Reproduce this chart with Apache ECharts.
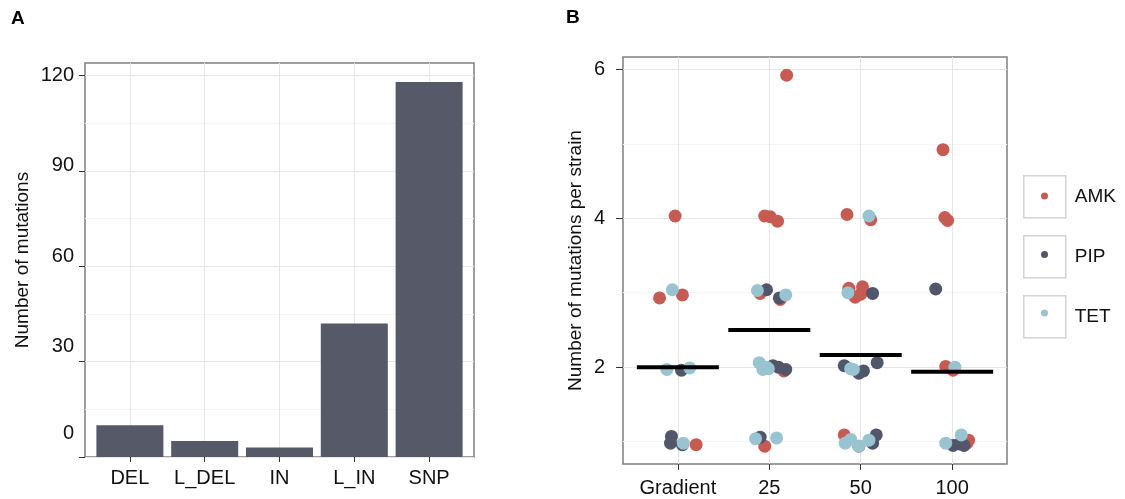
<!DOCTYPE html>
<html>
<head>
<meta charset="utf-8">
<title>mutations</title>
<script src="https://cdn.jsdelivr.net/npm/echarts@6/dist/echarts.min.js"></script>
<style>
  html, body { margin: 0; padding: 0; background: #fff; }
  #main { width: 1125px; height: 499px; }
</style>
</head>
<body>
<div id="main"></div>
<script>
// panel A: number of mutations per type
var mutTypes = ['DEL', 'L_DEL', 'IN', 'L_IN', 'SNP']
var mutCounts = [10, 5, 3, 42, 118]
var countTicks = [0, 30, 60, 90, 120]
var countMinor = [15, 45, 75, 105]

// panel B: mutations per strain, jittered points as [x, y]
var conditions = ['Gradient', '25', '50', '100']
var amkPoints = [
  [0.97, 4.03], [0.80, 2.93], [1.05, 2.97], [1.20, 0.96],
  [2.19, 5.92], [1.95, 4.03], [2.01, 4.02], [2.09, 3.96], [1.90, 2.99], [2.12, 2.91], [2.16, 1.95], [1.95, 0.94],
  [2.85, 4.05], [3.11, 3.98], [2.87, 3.06], [3.02, 3.08], [2.94, 2.94], [3.00, 2.98], [2.82, 1.09], [2.98, 0.94],
  [3.90, 4.92], [3.92, 4.01], [3.95, 3.97], [3.93, 2.01], [4.01, 1.96], [4.18, 1.02], [4.16, 0.98]
]
var pipPoints = [
  [1.04, 1.96], [0.93, 1.07], [0.92, 0.98], [1.05, 0.96],
  [1.97, 3.04], [2.11, 2.93], [2.04, 2.02], [2.10, 2.00], [2.18, 1.97], [1.90, 1.06],
  [3.13, 2.99], [2.82, 2.02], [2.98, 1.92], [3.03, 1.95], [3.18, 2.06], [3.17, 1.09], [3.13, 0.98],
  [3.82, 3.05], [4.01, 0.95], [4.13, 0.95], [4.08, 0.97]
]
var tetPoints = [
  [0.94, 3.04], [0.88, 1.97], [1.13, 1.99], [1.06, 0.98],
  [1.87, 3.03], [2.18, 2.97], [1.89, 2.06], [1.93, 1.97], [1.97, 2.00], [1.99, 1.98], [1.85, 1.04], [2.08, 1.05],
  [3.09, 4.03], [2.86, 3.00], [2.89, 1.98], [2.92, 1.97], [2.89, 1.03], [2.83, 0.98], [2.98, 0.94], [3.09, 1.02],
  [4.03, 2.00], [3.93, 0.98], [4.10, 1.09]
]
var strainMeans = [2.0, 2.5, 2.165, 1.94]
var strainTicks = [2, 4, 6]
var strainMinor = [1, 3, 5]

var font = 'Liberation Sans, Arial, sans-serif'
var ink = '#111'
var gridLine = '#e6e6e6'
var gridMinor = '#f4f4f4'
// the original figure has the left tick labels drifting upward, lift per label (px)
var labelLift = [24, 15, 10, 6, 0]

var liftRich = {}
labelLift.forEach(function (s, i) {
  liftRich['l' + i] = { fontSize: 20, color: ink, fontFamily: font, padding: [0, 0, 2 * s, 0] }
})

function catPos (arr) {
  return arr.map(function (c, i) { return i + 1 })
}

var myChart = echarts.init(document.getElementById('main'))
myChart.setOption({
  animation: false,
  textStyle: { fontFamily: font },
  title: [
    { text: 'A', left: 11, top: 9, padding: 0, textStyle: { fontSize: 19, fontWeight: 'bold', color: '#000' } },
    { text: 'B', left: 566, top: 8, padding: 0, textStyle: { fontSize: 19, fontWeight: 'bold', color: '#000' } }
  ],
  grid: [
    { left: 85, top: 63, width: 389, height: 394, show: true, backgroundColor: '#fff', borderColor: '#7f7f7f', borderWidth: 1.5, outerBoundsMode: 'none' },
    { left: 623, top: 57, width: 384, height: 407, show: true, backgroundColor: '#fff', borderColor: '#7f7f7f', borderWidth: 1.5, outerBoundsMode: 'none' }
  ],
  legend: [
    {
      data: ['AMK', 'PIP', 'TET'],
      orient: 'vertical',
      left: 1023,
      top: 175,
      padding: 0,
      icon: 'rect',
      itemWidth: 42,
      itemHeight: 42,
      itemGap: 16.5,
      selectedMode: false,
      itemStyle: { color: '#fff', borderColor: '#d4d4d4', borderWidth: 1.5 },
      textStyle: { fontSize: 19, color: ink, fontFamily: font, padding: [0, 0, 0, 4] }
    },
    {
      data: ['AMK', 'PIP', 'TET'],
      orient: 'vertical',
      left: 1041,
      top: 175,
      padding: 0,
      icon: 'circle',
      itemWidth: 7,
      itemHeight: 7,
      itemGap: 16.5,
      selectedMode: false,
      formatter: function () { return ' ' },
      textStyle: { fontSize: 10, lineHeight: 42 }
    }
  ],
  xAxis: [
    {
      type: 'value',
      gridIndex: 0,
      min: 0.4,
      max: 5.6,
      axisLine: { show: false },
      axisTick: { show: true, length: 5, customValues: catPos(mutTypes), lineStyle: { color: '#333' } },
      axisLabel: {
        customValues: catPos(mutTypes),
        margin: 11,
        fontSize: 20,
        color: ink,
        formatter: function (v) { return mutTypes[v - 1] }
      },
      splitLine: { show: true, lineStyle: { color: gridLine } }
    },
    {
      type: 'value',
      gridIndex: 1,
      min: 0.4,
      max: 4.6,
      axisLine: { show: false },
      axisTick: { show: true, length: 6, customValues: catPos(conditions), lineStyle: { color: '#333' } },
      axisLabel: {
        customValues: catPos(conditions),
        margin: 14,
        fontSize: 20,
        color: ink,
        formatter: function (v) { return conditions[v - 1] }
      },
      splitLine: { show: true, lineStyle: { color: gridLine } }
    }
  ],
  yAxis: [
    {
      type: 'value',
      gridIndex: 0,
      min: 0,
      max: 124,
      name: 'Number of mutations',
      nameLocation: 'middle',
      nameGap: 53,
      nameTextStyle: { fontSize: 19, color: ink },
      axisLine: { show: false },
      axisTick: { show: true, length: 6, customValues: countTicks, lineStyle: { color: '#333' } },
      axisLabel: {
        customValues: countTicks,
        margin: 11,
        formatter: function (v) { return '{l' + countTicks.indexOf(v) + '|' + v + '}' },
        rich: liftRich
      },
      splitLine: { show: true, lineStyle: { color: gridLine } }
    },
    {
      type: 'value',
      gridIndex: 0,
      position: 'left',
      min: 0,
      max: 124,
      axisLine: { show: false },
      axisTick: { show: false, customValues: countMinor },
      axisLabel: { show: false },
      splitLine: { show: true, lineStyle: { color: gridMinor } }
    },
    {
      type: 'value',
      gridIndex: 1,
      min: 0.7,
      max: 6.165,
      name: 'Number of mutations per strain',
      nameLocation: 'middle',
      nameGap: 38,
      nameTextStyle: { fontSize: 19, color: ink },
      axisLine: { show: false },
      axisTick: { show: true, length: 7, customValues: strainTicks, lineStyle: { color: '#333' } },
      axisLabel: { customValues: strainTicks, margin: 18, fontSize: 20, color: ink },
      splitLine: { show: true, lineStyle: { color: gridLine } }
    },
    {
      type: 'value',
      gridIndex: 1,
      position: 'left',
      min: 0.7,
      max: 6.165,
      axisLine: { show: false },
      axisTick: { show: false, customValues: strainMinor },
      axisLabel: { show: false },
      splitLine: { show: true, lineStyle: { color: gridMinor } }
    }
  ],
  series: [
    {
      name: 'count',
      type: 'bar',
      xAxisIndex: 0,
      yAxisIndex: 0,
      barWidth: 67,
      itemStyle: { color: '#555968' },
      data: mutCounts.map(function (v, i) { return [i + 1, v] })
    },
    {
      name: 'AMK',
      type: 'scatter',
      xAxisIndex: 1,
      yAxisIndex: 2,
      symbolSize: 13,
      itemStyle: { color: '#c65b53', opacity: 1 },
      data: amkPoints
    },
    {
      name: 'PIP',
      type: 'scatter',
      xAxisIndex: 1,
      yAxisIndex: 2,
      symbolSize: 13,
      itemStyle: { color: '#51566a', opacity: 1 },
      data: pipPoints
    },
    {
      name: 'TET',
      type: 'scatter',
      xAxisIndex: 1,
      yAxisIndex: 2,
      symbolSize: 13,
      itemStyle: { color: '#97c4d0', opacity: 1 },
      data: tetPoints
    },
    {
      name: 'mean',
      type: 'scatter',
      xAxisIndex: 1,
      yAxisIndex: 2,
      symbol: 'rect',
      symbolSize: [82, 4],
      itemStyle: { color: '#000', opacity: 1 },
      z: 5,
      data: strainMeans.map(function (m, i) { return [i + 1, m] })
    }
  ]
})
</script>
</body>
</html>
